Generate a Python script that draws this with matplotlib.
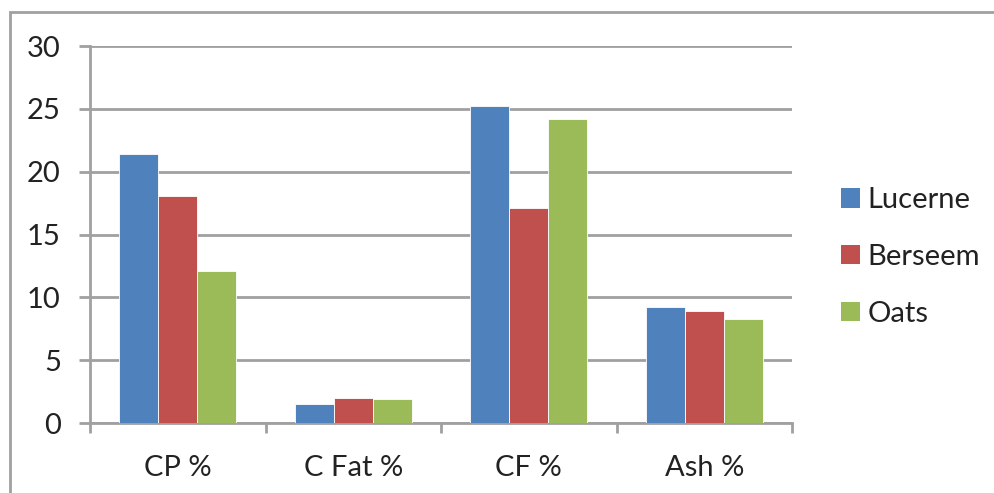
import matplotlib
matplotlib.use("Agg")
import matplotlib.pyplot as plt
import numpy as np
from matplotlib.patches import Patch, Rectangle

categories = ["CP %", "C Fat %", "CF %", "Ash %"]
series_names = ["Lucerne", "Berseem", "Oats"]
lucerne = [21.4, 1.5, 25.2, 9.2]
berseem = [18.1, 2.0, 17.1, 8.95]
oats = [12.1, 1.9, 24.2, 8.25]
colors = ["#4F81BD", "#C0504D", "#9BBB59"]
yticks = [0, 5, 10, 15, 20, 25, 30]

plt.rcParams['font.family'] = ['Lato', 'DejaVu Sans']
grid_c = "#A0A0A0"
txt_c = "#222222"

fig = plt.figure(figsize=(9.94, 4.93), dpi=100)
ax = fig.add_axes([90/994, 1-423/493, (792-90)/994, (423-46)/493])

x = np.arange(len(categories)) + 0.5
w = 0.222
for i, (vals, c) in enumerate(zip([lucerne, berseem, oats], colors)):
    ax.bar(x + (i-1)*w, vals, width=w, color=c, edgecolor="white", linewidth=0.6, zorder=3)

ax.set_xlim(0, 4)
ax.set_ylim(0, 30)
ax.set_yticks(yticks)
ax.set_yticklabels([str(t) for t in yticks], fontsize=21, color=txt_c)
ax.yaxis.grid(True, color=grid_c, linewidth=2, zorder=0)
ax.tick_params(axis='y', length=8, width=2, color=grid_c, pad=13)

ax.set_xticks(np.arange(0, 5))
ax.set_xticklabels([])
ax.tick_params(axis='x', which='major', length=7, width=2, color=grid_c)
ax.set_xticks(x, minor=True)
ax.set_xticklabels(categories, minor=True, fontsize=21, color=txt_c)
ax.tick_params(axis='x', which='minor', length=0, pad=23)

for s in ['top', 'right']:
    ax.spines[s].set_visible(False)
for s in ['left', 'bottom']:
    ax.spines[s].set_color(grid_c)
    ax.spines[s].set_linewidth(2)

handles = [Patch(facecolor=c, edgecolor='none') for c in colors]
fig.legend(handles, series_names, loc='center left', bbox_to_anchor=(815/994, 1-257/493),
           fontsize=21, frameon=False, handlelength=0.65, handleheight=0.65,
           handletextpad=0.25, labelspacing=1.05, labelcolor=txt_c)

# outer chart border (extends beyond the image at right and bottom)
fig.add_artist(Rectangle((10/994, -0.1), 1.2, 1 - 12/493 + 0.1, transform=fig.transFigure,
                         fill=False, edgecolor=grid_c, linewidth=2))

fig.savefig("out.png", dpi=100)
